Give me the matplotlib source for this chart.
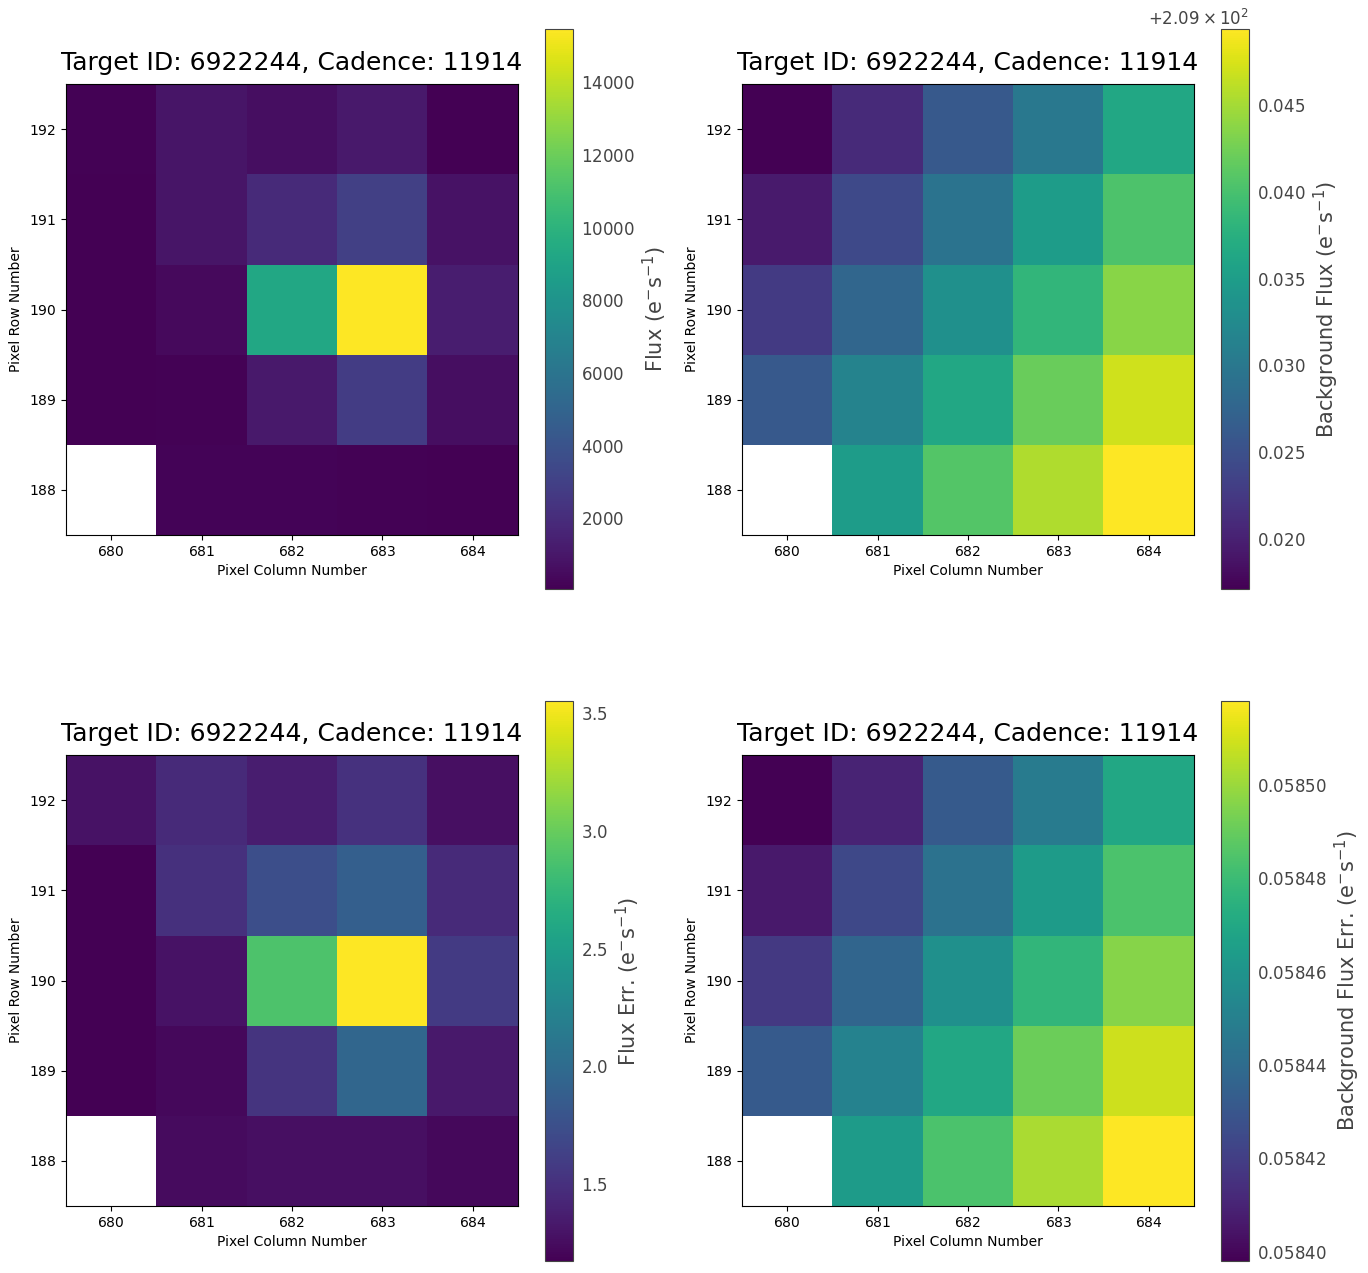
import numpy as np
import matplotlib
matplotlib.use('Agg')
import matplotlib.pyplot as plt

plt.rcParams['axes.formatter.use_mathtext'] = True
plt.rcParams['mathtext.default'] = 'regular'

# pixel grid (centres)
columns = [680, 681, 682, 683, 684]
rows = [188, 189, 190, 191, 192]

title = 'Target ID: 6922244, Cadence: 11914'

# values per row, from row 188 (bottom) to row 192 (top)
flux = [
    [np.nan, 200, 180, 150, 49],
    [70, 120, 1100, 2800, 600],
    [90, 450, 9300, 15473, 1300],
    [80, 900, 1900, 3000, 800],
    [120, 950, 650, 1100, 50],
]

bkg_flux = [
    [np.nan, 209.0349, 209.0407, 209.0455, 209.0494],
    [209.0261, 209.0316, 209.0365, 209.0420, 209.0471],
    [209.0226, 209.0278, 209.0333, 209.0384, 209.0436],
    [209.0194, 209.0242, 209.0294, 209.0349, 209.0404],
    [209.0171, 209.0210, 209.0261, 209.0300, 209.0365],
]

flux_err = [
    [np.nan, 1.24, 1.27, 1.27, 1.22],
    [1.173, 1.22, 1.53, 1.96, 1.34],
    [1.18, 1.29, 2.89, 3.551, 1.58],
    [1.18, 1.50, 1.74, 1.89, 1.46],
    [1.29, 1.46, 1.36, 1.51, 1.27],
]

bkg_flux_err = [
    [np.nan, 0.058464, 0.058484, 0.058503, 0.058518],
    [0.058432, 0.058451, 0.058470, 0.058491, 0.058509],
    [0.058418, 0.058437, 0.058458, 0.058477, 0.058496],
    [0.058406, 0.058424, 0.058443, 0.058464, 0.058484],
    [0.058398, 0.058410, 0.058432, 0.058448, 0.058470],
]

panels = [
    (flux, 'Flux ($e^{-}s^{-1}$)'),
    (bkg_flux, 'Background Flux ($e^{-}s^{-1}$)'),
    (flux_err, 'Flux Err. ($e^{-}s^{-1}$)'),
    (bkg_flux_err, 'Background Flux Err. ($e^{-}s^{-1}$)'),
]

W, H = 1368, 1273
fig = plt.figure(figsize=(W / 100, H / 100), dpi=100)

# pixel boxes: (ax left, ax top, cbar left, cbar top)
boxes = [(66, 84, 545, 29), (742, 84, 1221, 29),
         (66, 755, 545, 701), (742, 755, 1221, 701)]
ax_w, ax_h = 452, 451
cb_w, cb_h = 28, 560

extent = [columns[0] - 0.5, columns[-1] + 0.5, rows[0] - 0.5, rows[-1] + 0.5]

for (data, label), (axl, axt, cbl, cbt) in zip(panels, boxes):
    ax = fig.add_axes([axl / W, 1 - (axt + ax_h) / H, ax_w / W, ax_h / H])
    cax = fig.add_axes([cbl / W, 1 - (cbt + cb_h) / H, cb_w / W, cb_h / H])
    im = ax.imshow(np.array(data, dtype=float), origin='lower', cmap='viridis',
                   extent=extent, interpolation='nearest', aspect='auto')
    ax.set_xticks(columns)
    ax.set_yticks(rows)
    ax.set_xlabel('Pixel Column Number')
    ax.set_ylabel('Pixel Row Number')
    ax.set_title(title, fontsize=18, pad=10)

    cb = fig.colorbar(im, cax=cax)
    cb.outline.set_edgecolor('#444444')
    cb.ax.tick_params(length=0, labelsize=12, labelcolor='#444444', pad=6)
    cb.ax.yaxis.get_offset_text().set_color('#444444')
    cb.ax.yaxis.get_offset_text().set_fontsize(12)
    cb.set_label(label, fontsize=15, color='#444444')

fig.savefig('out.png', dpi=100)
